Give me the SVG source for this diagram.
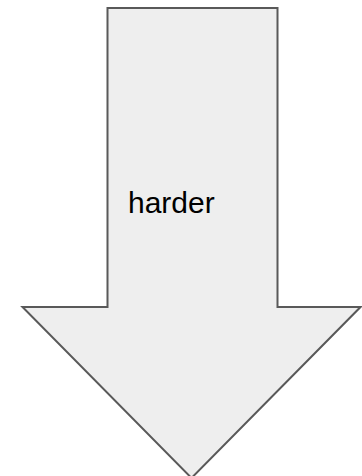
<svg xmlns="http://www.w3.org/2000/svg" width="362" height="476" viewBox="0 0 362 476">
<style>
.arrow{fill:#eeeeee;stroke:#595959;stroke-width:2;stroke-linejoin:miter}
.lbl{font-family:"Liberation Sans",Arial,sans-serif;font-size:30px;fill:#000}
</style>
<rect width="362" height="476" fill="#ffffff"/>
<g id="arrow">
<polygon class="arrow" points="107.5,8 277.5,8 277.5,307 360.5,307 191.5,478 22.5,307 107.5,307"/>
<text class="lbl" x="128" y="213">harder</text>
</g>
</svg>
